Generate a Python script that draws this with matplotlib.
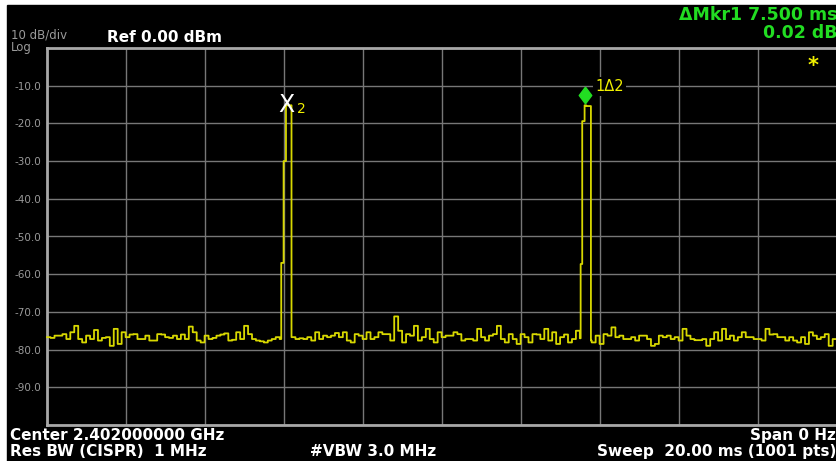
import numpy as np
import matplotlib
matplotlib.use("Agg")
from matplotlib import pyplot as plt
from matplotlib import transforms

# sweep: 20 ms span, 1001 points
sweep_ms = 20.0
n_pts = 1001

# noise floor, one level per 5 trace points (0.1 ms)
noise_db = [
    -76.7, -76.9, -76.3, -76.3, -75.9, -77.2, -75.4, -73.7, -77.2, -78.1,
    -76.3, -77.2, -74.8, -77.6, -76.9, -76.7, -79.0, -74.5, -78.5, -75.4,
    -76.7, -76.0, -75.9, -77.2, -77.2, -76.3, -77.6, -77.6, -75.9, -76.0,
    -76.7, -76.9, -76.3, -77.2, -76.0, -77.2, -73.9, -75.4, -77.6, -78.1,
    -76.3, -77.2, -76.9, -76.3, -76.0, -75.7, -77.6, -77.4, -75.4, -77.2,
    -73.7, -75.9, -77.2, -77.6, -77.8, -78.1, -77.6, -77.2, -76.7, -77.2,
    -77.0, -77.0,
    -76.7, -77.2, -77.0, -77.2, -76.7, -77.6, -75.4, -77.2, -76.3, -76.7,
    -76.3, -75.6, -76.7, -75.4, -77.6, -78.1, -75.9, -76.3, -77.2, -75.4,
    -77.2, -76.7, -75.4, -75.9, -75.9, -77.6, -71.2, -75.0, -78.1, -75.9,
    -76.3, -73.7, -77.6, -76.7, -74.5, -77.2, -78.1, -75.4, -76.7,
    -76.3, -76.3, -75.4, -75.9, -77.6, -77.2, -77.2, -77.6, -74.5, -76.7,
    -77.6, -76.3, -75.9, -73.7, -77.2, -78.1, -75.9, -77.2, -78.5, -75.9,
    -76.7, -78.1, -75.9, -76.0, -77.2, -74.5, -77.6, -75.4, -78.5, -76.7,
    -76.0, -78.1, -77.2, -75.0,
    -77.0, -77.0, -77.6,
    -78.1, -76.3, -78.5, -75.9, -76.3, -74.1, -76.7, -76.3, -77.2, -77.2,
    -76.7, -77.6, -76.3,
    -76.3, -77.2, -79.0, -78.5, -76.3, -76.7, -76.3, -77.2, -76.7, -77.6,
    -74.5, -76.3, -77.2, -77.5, -77.5, -77.2, -79.0, -77.2, -75.4, -77.6,
    -74.5, -77.2, -76.3, -77.6, -76.7, -75.4, -76.7, -76.7, -77.2, -77.2,
    -77.6, -74.5, -76.0, -75.9, -76.7, -76.7, -77.6, -76.7, -77.6, -78.1,
    -76.7, -78.5, -75.4, -76.3, -77.2, -76.7, -75.9, -79.0,
    -77.2,
]

# the two bursts (trace point index of first sample, levels in dBm)
burst1_start = 297
burst1_db = [-57.0, -57.0, -57.0, -30.0, -30.0, -30.0,
             -15.2, -15.2, -15.2, -15.2, -15.2, -15.2, -15.2]
burst2_start = 676
burst2_db = [-57.3, -57.3, -19.4, -19.4, -19.4,
             -15.2, -15.2, -15.4, -15.4, -15.4, -15.4, -15.4, -15.4]

mkr2_idx = 306   # X2
mkr1_idx = 681   # 1Δ2

ytick_vals = list(range(-100, 1, 10))
ytick_txt = ["" if v in (0, -100) else "%.1f" % v for v in ytick_vals]


def px(x, y):
    # pixel position in the 837x461 picture -> figure fraction
    return x / 837.0, 1.0 - y / 461.0


def main():
    trace = np.repeat(np.array(noise_db), 5)
    trace = np.append(trace, trace[-1])[:n_pts]
    trace[burst1_start:burst1_start + len(burst1_db)] = burst1_db
    trace[burst2_start:burst2_start + len(burst2_db)] = burst2_db
    t = np.linspace(0, sweep_ms, n_pts)

    fig = plt.figure(figsize=(8.37, 4.61), dpi=100, facecolor="white")
    # black instrument screen, white strip at top/left
    fig.patches.append(plt.Rectangle(px(7, 461), 1 - 7 / 837.0, 1 - 5 / 461.0,
                                     transform=fig.transFigure, color="black", zorder=-5))

    x0, y0 = px(47, 425)
    ax = fig.add_axes([x0, y0, 790 / 837.0, 377 / 461.0])
    ax.set_facecolor("black")
    ax.set_xlim(0, sweep_ms)
    ax.set_ylim(-100, 0)
    ax.set_xticks(np.arange(0, 20.1, 2))
    ax.set_xticklabels([])
    ax.set_yticks(ytick_vals)
    ax.set_yticklabels(ytick_txt, color="#9a9a9a", fontsize=7.5, family="DejaVu Sans")
    ax.tick_params(length=0, pad=4)
    ax.grid(True, color="#777777", linewidth=1)
    ax.set_axisbelow(True)
    for side in ["left", "top", "bottom"]:
        ax.spines[side].set_color("#a8a8a8")
        ax.spines[side].set_linewidth(2)
    ax.spines["right"].set_visible(False)

    ax.plot(t, trace, color="#d8d800", linewidth=1.3, drawstyle="steps-mid",
            zorder=3, clip_on=False)

    # marker 2 : X with yellow subscript
    ax.text(t[mkr2_idx], trace[mkr2_idx], "X", color="white", fontsize=17,
            ha="center", va="center", zorder=5,
            transform=transforms.offset_copy(ax.transData, fig, x=-1.5, y=0.5, units="points"))
    ax.text(t[mkr2_idx], trace[mkr2_idx], "2", color="#f0f000", fontsize=10,
            ha="center", va="center", zorder=5,
            transform=transforms.offset_copy(ax.transData, fig, x=9, y=-3, units="points"))

    # marker 1 : green diamond + label
    diamond = [(0, 1), (0.75, 0), (0, -1), (-0.75, 0), (0, 1)]
    ax.plot([t[mkr1_idx]], [trace[mkr1_idx]], marker=diamond, markersize=12,
            color="#22dd22", linestyle="none", zorder=6,
            transform=transforms.offset_copy(ax.transData, fig, x=0, y=7.5, units="points"))
    ax.text(t[mkr1_idx], trace[mkr1_idx], "1\u03942", color="#f0f000", fontsize=10.5,
            ha="center", va="center", zorder=5,
            bbox=dict(facecolor="black", edgecolor="none", pad=1.5),
            transform=transforms.offset_copy(ax.transData, fig, x=17.5, y=13.5, units="points"))

    # screen annotations
    fig.text(*px(11, 35), "10 dB/div", color="#9a9a9a", fontsize=8.5, va="center")
    fig.text(*px(11, 47), "Log", color="#9a9a9a", fontsize=8.5, va="center")
    fig.text(*px(107, 37), "Ref 0.00 dBm", color="white", fontsize=11,
             fontweight="bold", va="center")
    fig.text(*px(838, 15), "\u0394Mkr1 7.500 ms", color="#22dd22", fontsize=12.5,
             fontweight="bold", ha="right", va="center")
    fig.text(*px(838, 33), "0.02 dB", color="#22dd22", fontsize=12.5,
             fontweight="bold", ha="right", va="center")
    fig.text(*px(813, 66), "*", color="#f0f000", fontsize=15, fontweight="bold",
             ha="center", va="center")

    fig.text(*px(10, 435), "Center 2.402000000 GHz", color="white", fontsize=11,
             fontweight="bold", va="center")
    fig.text(*px(10, 451), "Res BW (CISPR)  1 MHz", color="white", fontsize=11,
             fontweight="bold", va="center")
    fig.text(*px(310, 451), "#VBW 3.0 MHz", color="white", fontsize=11,
             fontweight="bold", va="center")
    fig.text(*px(836, 435), "Span 0 Hz", color="white", fontsize=11,
             fontweight="bold", ha="right", va="center")
    fig.text(*px(836, 451), "Sweep  20.00 ms (1001 pts)", color="white", fontsize=11,
             fontweight="bold", ha="right", va="center")

    fig.savefig("out.png", dpi=100, facecolor="white")


if __name__ == "__main__":
    main()
